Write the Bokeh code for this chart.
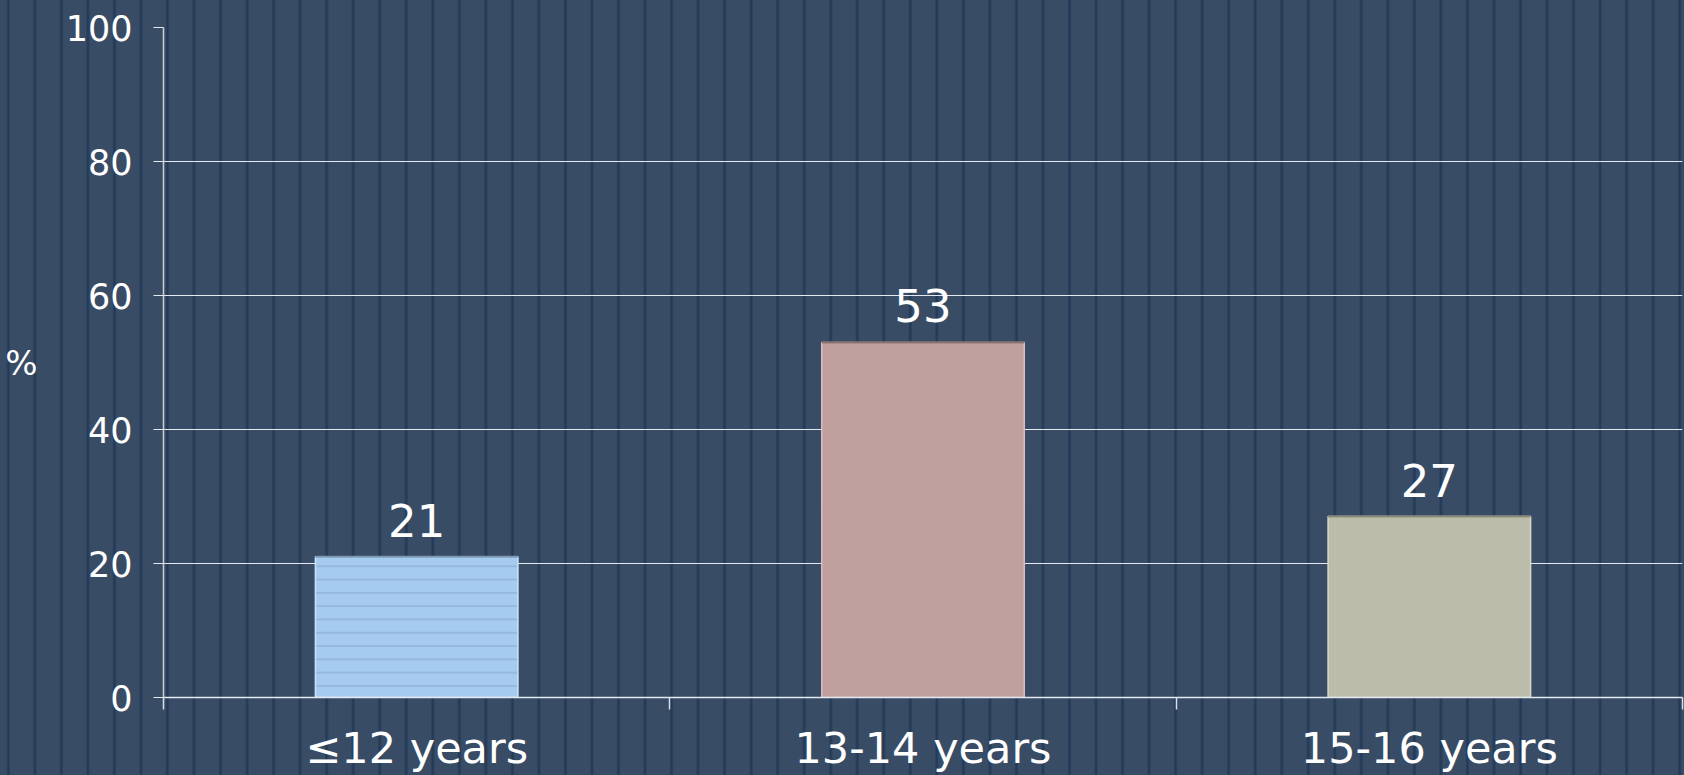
from bokeh.plotting import figure
from bokeh.models import ColumnDataSource, Range1d, FixedTicker, LabelSet, LinearAxis
from bokeh.core.properties import value
from bokeh.embed import file_html
from bokeh.resources import INLINE

# ---- data ----
categories = ["≤12 years", "13-14 years", "15-16 years"]
values = [21, 53, 27]
value_labels = ["21", "53", "27"]
fill_colors = ["#a6cbf0", "#bfa09f", "#bcbcab"]
line_colors = ["#c8e3fa", "#dcbcba", "#d8d8c6"]
top_colors = ["#7d97b3", "#8c706e", "#8a8a79"]
hatches = ["horizontal_line", " ", " "]
y_ticks = [0, 20, 40, 60, 80, 100]
y_label = "%"
y_label_pos = 50

FONT = "DejaVu Sans"
BAR_W = 0.4

xs = [i + 0.5 for i in range(len(categories))]
boundaries = [float(i) for i in range(len(categories) + 1)]

src = ColumnDataSource(dict(
    x=xs, top=values, label=value_labels, fill=fill_colors, line=line_colors,
    topc=top_colors, hatch=hatches,
    x0=[x - BAR_W / 2 for x in xs], x1=[x + BAR_W / 2 for x in xs],
))

p = figure(width=1684, height=775,
           x_range=Range1d(0, len(categories)), y_range=Range1d(0, 100),
           output_backend="svg", toolbar_location=None,
           min_border_left=163, min_border_right=2,
           min_border_top=27, min_border_bottom=77)

p.background_fill_alpha = 0
p.border_fill_alpha = 0
p.outline_line_color = None

# grid
p.xgrid.visible = False
p.ygrid.ticker = FixedTicker(ticks=y_ticks)
p.ygrid.grid_line_color = "#e4e9ef"
p.ygrid.grid_line_width = 1

# y axis
yax = p.yaxis[0]
yax.ticker = FixedTicker(ticks=y_ticks, minor_ticks=[])
yax.axis_line_color = "#c9cfd6"
yax.axis_line_width = 1.5
yax.major_tick_out = 10
yax.major_tick_in = 0
yax.major_tick_line_color = "#e4e9ef"
yax.minor_tick_line_color = None
yax.major_label_text_font = FONT
yax.major_label_text_font_size = "35px"
yax.major_label_text_color = "white"
yax.major_label_standoff = 21

# "%" title as an outer left axis with a single label
pax = LinearAxis(ticker=FixedTicker(ticks=[y_label_pos], minor_ticks=[]),
                 major_label_overrides={y_label_pos: y_label})
pax.axis_line_color = None
pax.major_tick_line_color = None
pax.minor_tick_line_color = None
pax.major_tick_out = 0
pax.major_tick_in = 0
pax.major_label_standoff = 25
pax.major_label_text_font = FONT
pax.major_label_text_font_size = "34px"
pax.major_label_text_color = "white"
p.add_layout(pax, "left")

# x axis
xax = p.xaxis[0]
xax.ticker = FixedTicker(ticks=xs, minor_ticks=boundaries)
xax.major_label_overrides = {x: c for x, c in zip(xs, categories)}
xax.axis_line_color = "#e4e9ef"
xax.axis_line_width = 1.5
xax.major_tick_out = 0
xax.major_tick_in = 0
xax.major_tick_line_color = None
xax.minor_tick_out = 12
xax.minor_tick_in = 0
xax.minor_tick_line_color = "#d8dee5"
xax.minor_tick_line_width = 1.5
xax.major_label_text_font = FONT
xax.major_label_text_font_size = "43px"
xax.major_label_text_color = "white"
xax.major_label_standoff = 13

# bars
p.vbar(x="x", top="top", bottom=0, width=BAR_W, source=src,
       fill_color="fill", line_color="line", line_width=1.5,
       hatch_pattern="hatch", hatch_color="#86a9cf", hatch_alpha=0.7,
       hatch_scale=13.3, hatch_weight=1.5)
p.segment(x0="x0", x1="x1", y0="top", y1="top", source=src,
          line_color="topc", line_width=2)

# value labels
labels = LabelSet(x="x", y="top", text="label", source=src, y_offset=20,
                  text_align="center", text_baseline="alphabetic",
                  text_font=value(FONT), text_font_size="45px",
                  text_color="white")
p.add_layout(labels)

html = file_html(p, INLINE, title="chart")
style = ("<style>html,body{margin:0;padding:0;overflow:hidden;}"
         "html{background-color:#384c66;"
         "background-image:repeating-linear-gradient(90deg,"
         "#384c66 0px,#384c66 6.0px,#2a405c 7.3px,#223955 8.3px,#2a405c 9.3px,"
         "#384c66 10.6px,#384c66 26.53px);}"
         "body{background:transparent;}</style>")
html = html.replace("</head>", style + "</head>", 1)
open("out.html", "w").write(html)
